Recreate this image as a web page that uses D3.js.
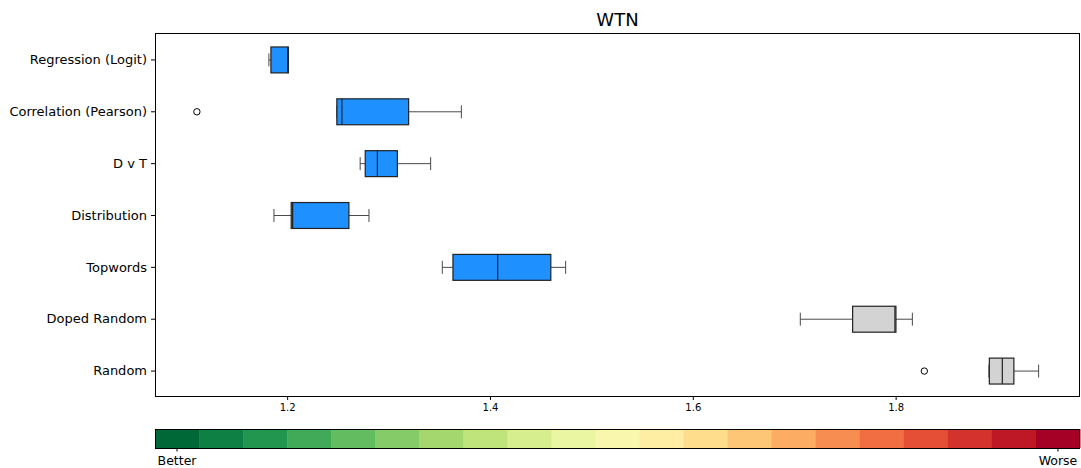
<!DOCTYPE html>
<html>
<head>
<meta charset="utf-8">
<script src="https://cdn.jsdelivr.net/npm/d3@7"></script>
<style>
  html, body { margin: 0; padding: 0; background: #fff; }
  svg { display: block; font-family: "DejaVu Sans", sans-serif; }
</style>
</head>
<body>
<svg id="chart" width="1081" height="468"></svg>
<script>
// Methods, top to bottom
const methods = ["Regression (Logit)", "Correlation (Pearson)", "D v T", "Distribution", "Topwords", "Doped Random", "Random"];
// Five-number summaries per method
const whiskerLow  = [1.182, 1.249, 1.272, 1.187, 1.353, 1.706, 1.892];
const quartile1   = [1.184, 1.249, 1.277, 1.204, 1.3635, 1.7576, 1.8924];
const medians     = [1.2005, 1.254, 1.289, 1.2054, 1.4076, 1.7993, 1.9052];
const quartile3   = [1.2012, 1.3198, 1.3087, 1.2609, 1.460, 1.8003, 1.9166];
const whiskerHigh = [1.2012, 1.3718, 1.3415, 1.2807, 1.4746, 1.8165, 1.941];
const outliers    = [[], [1.111], [], [], [], [], [1.8283]];
const isBaseline  = [false, false, false, false, false, true, true];
const xTicks = [1.2, 1.4, 1.6, 1.8];
const colorbarEnds = ["Better", "Worse"];
const colorbarSteps = 21;

const svg = d3.select("#chart");
const plot = { left: 155, right: 1080, top: 33, bottom: 396 };

const x = d3.scaleLinear().domain([1.0697, 1.9818]).range([plot.left, plot.right]);
const y = d3.scaleBand().domain(methods).range([plot.top + 1, plot.bottom + 1]).paddingInner(0.5).paddingOuter(0.25);

// Title
svg.append("text").attr("x", (plot.left + plot.right) / 2).attr("y", 26)
  .attr("text-anchor", "middle").attr("font-size", 18).text("WTN");

// Axes
const xAxis = d3.axisBottom(x).tickValues(xTicks).tickFormat(d3.format(".1f")).tickSize(4).tickPadding(4);
const gx = svg.append("g").attr("transform", `translate(0,${plot.bottom})`).call(xAxis);
gx.select(".domain").remove();
gx.selectAll("text").attr("font-size", 10).attr("font-family", "DejaVu Sans");

const yAxis = d3.axisLeft(y).tickSize(4).tickPadding(4);
const gy = svg.append("g").attr("transform", `translate(${plot.left},0)`).call(yAxis);
gy.select(".domain").remove();
gy.selectAll("text").attr("font-size", 13).attr("font-family", "DejaVu Sans");

// Boxes
const bw = y.bandwidth();
methods.forEach((m, i) => {
  const cy = y(m) + bw / 2;
  const g = svg.append("g");
  const wc = "#4a4a4a";
  g.append("line").attr("x1", x(whiskerLow[i])).attr("x2", x(quartile1[i])).attr("y1", cy).attr("y2", cy).attr("stroke", wc);
  g.append("line").attr("x1", x(quartile3[i])).attr("x2", x(whiskerHigh[i])).attr("y1", cy).attr("y2", cy).attr("stroke", wc);
  [whiskerLow[i], whiskerHigh[i]].forEach(v => {
    g.append("line").attr("x1", x(v)).attr("x2", x(v)).attr("y1", cy - bw / 4).attr("y2", cy + bw / 4).attr("stroke", wc);
  });
  g.append("rect").attr("x", x(quartile1[i])).attr("y", y(m))
    .attr("width", x(quartile3[i]) - x(quartile1[i])).attr("height", bw)
    .attr("fill", isBaseline[i] ? "#d3d3d3" : "#1e90ff")
    .attr("stroke", "#222").attr("stroke-width", 1.2);
  g.append("line").attr("x1", x(medians[i])).attr("x2", x(medians[i])).attr("y1", y(m)).attr("y2", y(m) + bw)
    .attr("stroke", "#222").attr("stroke-width", 1.2);
  outliers[i].forEach(v => {
    g.append("circle").attr("cx", x(v)).attr("cy", cy).attr("r", 3.2)
      .attr("fill", "none").attr("stroke", "#000").attr("stroke-width", 1);
  });
});

// Frame
svg.append("rect").attr("x", plot.left + 0.5).attr("y", plot.top + 0.5)
  .attr("width", plot.right - plot.left - 1).attr("height", plot.bottom - plot.top)
  .attr("fill", "none").attr("stroke", "#000").attr("stroke-width", 1);

// Colour bar
const cb = { top: 429, bottom: 448 };
const cbx = d3.scaleBand().domain(d3.range(colorbarSteps)).range([plot.left, plot.right]);
svg.append("g").selectAll("rect").data(d3.range(colorbarSteps)).join("rect")
  .attr("x", d => cbx(d)).attr("y", cb.top)
  .attr("width", cbx.bandwidth() + 0.5).attr("height", cb.bottom - cb.top)
  .attr("fill", d => d3.interpolateRdYlGn(1 - d / (colorbarSteps - 1)));
svg.append("rect").attr("x", plot.left + 0.5).attr("y", cb.top + 0.5)
  .attr("width", plot.right - plot.left - 1).attr("height", cb.bottom - cb.top)
  .attr("fill", "none").attr("stroke", "#000").attr("stroke-width", 1);
const ends = [0, colorbarSteps - 1];
colorbarEnds.forEach((label, k) => {
  const cx = cbx(ends[k]) + cbx.bandwidth() / 2;
  svg.append("line").attr("x1", cx).attr("x2", cx).attr("y1", cb.bottom).attr("y2", cb.bottom + 3.5).attr("stroke", "#000");
  svg.append("text").attr("x", cx).attr("y", cb.bottom + 17).attr("text-anchor", "middle")
    .attr("font-size", 12.5).text(label);
});
</script>
</body>
</html>
